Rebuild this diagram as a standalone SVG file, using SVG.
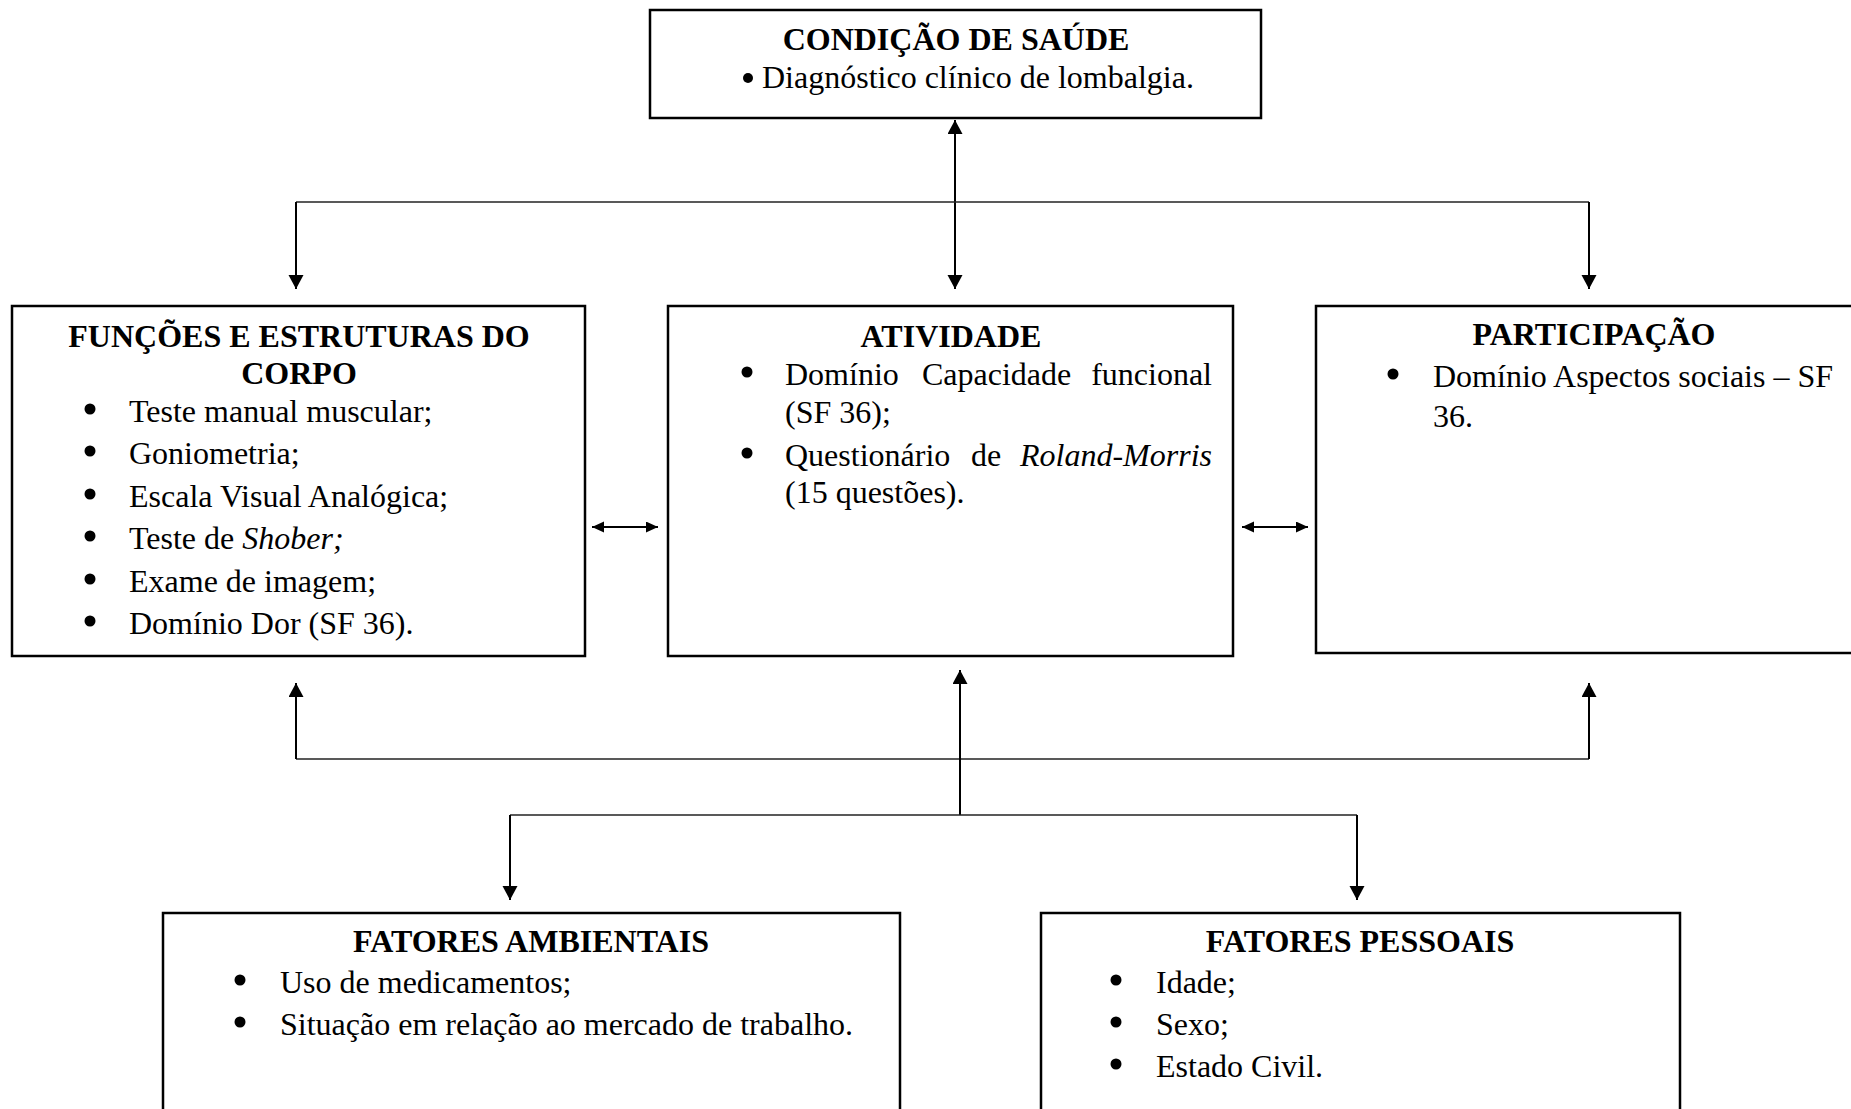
<svg xmlns="http://www.w3.org/2000/svg" width="1851" height="1109" viewBox="0 0 1851 1109">
<style>
.box{fill:#fff;stroke:#000;stroke-width:2.5}
.t{font-family:"Liberation Serif","Times New Roman",serif;font-size:32px;fill:#000}
.dot{fill:#000}
.h{font-weight:bold;text-anchor:middle}
.i{font-style:italic}
.ln{fill:none;stroke:#000;stroke-width:2}
.hl{fill:none;stroke:#222;stroke-width:1.5}
</style>
<defs>
<marker id="ah" markerUnits="userSpaceOnUse" markerWidth="15" markerHeight="16" refX="14" refY="7.5" orient="auto-start-reverse" viewBox="0 0 15 16">
<path d="M0,0 L14,7.5 L0,15 Z" fill="#000"/>
</marker>
<marker id="ahs" markerUnits="userSpaceOnUse" markerWidth="13" markerHeight="12" refX="12" refY="5.5" orient="auto-start-reverse" viewBox="0 0 13 12">
<path d="M0,0 L12,5.5 L0,11 Z" fill="#000"/>
</marker>
</defs>
<rect width="1851" height="1109" fill="#fff"/>

<g id="connectors">
<path class="ln" d="M955,120 V289" marker-start="url(#ah)" marker-end="url(#ah)"/>
<path class="hl" d="M296,202 H1589"/>
<path class="ln" d="M296,202 V289" marker-end="url(#ah)"/>
<path class="ln" d="M1589,202 V289" marker-end="url(#ah)"/>
<path class="ln" d="M592,527 H658" marker-start="url(#ahs)" marker-end="url(#ahs)"/>
<path class="ln" d="M1242,527 H1308" marker-start="url(#ahs)" marker-end="url(#ahs)"/>
<path class="hl" d="M296,759 H1589"/>
<path class="ln" d="M296,759 V683" marker-end="url(#ah)"/>
<path class="ln" d="M1589,759 V683" marker-end="url(#ah)"/>
<path class="ln" d="M960,815 V670" marker-end="url(#ah)"/>
<path class="hl" d="M510,815 H1357"/>
<path class="ln" d="M510,815 V900" marker-end="url(#ah)"/>
<path class="ln" d="M1357,815 V900" marker-end="url(#ah)"/>
</g>

<g id="condicao-saude">
<rect class="box" x="650" y="10" width="611" height="108"/>
<text class="t h" x="956" y="50">CONDIÇÃO DE SAÚDE</text>
<circle class="dot" cx="748" cy="78" r="5"/>
<text class="t" x="762" y="88">Diagnóstico clínico de lombalgia.</text>
</g>

<g id="funcoes-estruturas">
<rect class="box" x="12" y="306" width="573" height="350"/>
<text class="t h" x="299" y="347">FUNÇÕES E ESTRUTURAS DO</text>
<text class="t h" x="299" y="384">CORPO</text>
<circle class="dot" cx="90" cy="409" r="5.5"/><text class="t" x="129" y="422">Teste manual muscular;</text>
<circle class="dot" cx="90" cy="451" r="5.5"/><text class="t" x="129" y="464">Goniometria;</text>
<circle class="dot" cx="90" cy="494" r="5.5"/><text class="t" x="129" y="507">Escala Visual Analógica;</text>
<circle class="dot" cx="90" cy="536" r="5.5"/><text class="t" x="129" y="549">Teste de <tspan class="i">Shober;</tspan></text>
<circle class="dot" cx="90" cy="579" r="5.5"/><text class="t" x="129" y="592">Exame de imagem;</text>
<circle class="dot" cx="90" cy="621" r="5.5"/><text class="t" x="129" y="634">Domínio Dor (SF 36).</text>
</g>

<g id="atividade">
<rect class="box" x="668" y="306" width="565" height="350"/>
<text class="t h" x="951" y="347">ATIVIDADE</text>
<circle class="dot" cx="747" cy="372" r="5.5"/>
<text class="t" x="785" y="385">Domínio</text>
<text class="t" x="922" y="385">Capacidade</text>
<text class="t" x="1212" y="385" text-anchor="end">funcional</text>
<text class="t" x="785" y="423">(SF 36);</text>
<circle class="dot" cx="747" cy="453" r="5.5"/>
<text class="t" x="785" y="466">Questionário</text>
<text class="t" x="971" y="466">de</text>
<text class="t i" x="1212" y="466" text-anchor="end">Roland-Morris</text>
<text class="t" x="785" y="503">(15 questões).</text>
</g>

<g id="participacao">
<rect class="box" x="1316" y="306" width="560" height="347"/>
<text class="t h" x="1594" y="345">PARTICIPAÇÃO</text>
<circle class="dot" cx="1393" cy="374" r="5.5"/>
<text class="t" x="1433" y="387">Domínio Aspectos sociais – SF</text>
<text class="t" x="1433" y="427">36.</text>
</g>

<g id="fatores-ambientais">
<rect class="box" x="163" y="913" width="737" height="220"/>
<text class="t h" x="531" y="952">FATORES AMBIENTAIS</text>
<circle class="dot" cx="240" cy="980" r="5.5"/><text class="t" x="280" y="993">Uso de medicamentos;</text>
<circle class="dot" cx="240" cy="1022" r="5.5"/><text class="t" x="280" y="1035">Situação em relação ao mercado de trabalho.</text>
</g>

<g id="fatores-pessoais">
<rect class="box" x="1041" y="913" width="639" height="220"/>
<text class="t h" x="1360" y="952">FATORES PESSOAIS</text>
<circle class="dot" cx="1116" cy="980" r="5.5"/><text class="t" x="1156" y="993">Idade;</text>
<circle class="dot" cx="1116" cy="1022" r="5.5"/><text class="t" x="1156" y="1035">Sexo;</text>
<circle class="dot" cx="1116" cy="1064" r="5.5"/><text class="t" x="1156" y="1077">Estado Civil.</text>
</g>
</svg>
